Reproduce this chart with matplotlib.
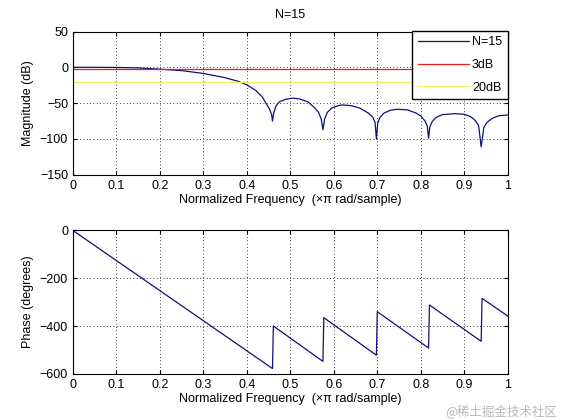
import numpy as np
import matplotlib.pyplot as plt

plt.rcParams['font.family'] = ['Liberation Sans', 'DejaVu Sans']
plt.rcParams['font.size'] = 9

# magnitude response (freq in x pi rad/sample, dB)
mag_f = [0.0, 0.05, 0.10, 0.15, 0.20, 0.25, 0.30, 0.35, 0.38, 0.40, 0.42,
         0.435, 0.445, 0.452, 0.457, 0.459, 0.462, 0.467, 0.475, 0.49, 0.506,
         0.52, 0.54, 0.555, 0.565, 0.571, 0.575, 0.579, 0.585, 0.595, 0.61,
         0.62, 0.64, 0.66, 0.68, 0.69, 0.695, 0.698, 0.701, 0.706, 0.715,
         0.73, 0.747, 0.77, 0.79, 0.80, 0.81, 0.815, 0.818, 0.821, 0.826,
         0.835, 0.85, 0.878, 0.90, 0.915, 0.925, 0.933, 0.939, 0.945, 0.952,
         0.965, 0.98, 1.0]
mag_db = [0.0, 0.0, -0.2, -0.8, -2.6, -4.6, -8.5, -14.5, -19.5, -24.5, -32,
          -41, -51, -58, -66, -75, -63, -54, -48, -44.5, -43,
          -44, -48, -56, -63, -72, -87, -72, -63, -57, -53.5,
          -52.5, -53.5, -57, -64, -70, -77, -100, -78, -70, -64,
          -60, -58.5, -59.5, -64, -68, -75, -82, -99, -83, -76,
          -70, -66, -64.7, -65.5, -69, -74, -81, -111, -84, -77,
          -71, -67.5, -66.5]

# phase response (degrees)
ph_f = [0.0, 0.459, 0.461, 0.575, 0.577, 0.698, 0.700, 0.818, 0.820,
        0.939, 0.941, 1.0]
ph_deg = [0, -578, -400, -548, -365, -522, -340, -492, -312,
          -464, -284, -358]

ref_3db = -3
ref_20db = -20

xticks = np.arange(0, 1.01, 0.1)
xlabels = ['0', '0.1', '0.2', '0.3', '0.4', '0.5', '0.6', '0.7', '0.8', '0.9', '1']
line_col = '#10107a'

fig = plt.figure(figsize=(5.61, 4.20), dpi=100)
ax1 = fig.add_axes([0.13, 0.5838, 0.775, 0.3412])
ax2 = fig.add_axes([0.13, 0.11, 0.775, 0.3412])

ax1.plot(mag_f, mag_db, color=line_col, lw=0.9, label='N=15')
ax1.axhline(ref_3db, color='#e02020', lw=0.9, label='3dB')
ax1.axhline(ref_20db, color='#f2f060', lw=0.9, label='20dB')
ax1.set_ylim(-150, 50)
ax1.set_yticks([-150, -100, -50, 0, 50])
ax1.set_ylabel('Magnitude (dB)')
ax1.set_title('N=15', fontsize=9, pad=10)
ax1.legend(loc='upper right', bbox_to_anchor=(1.0, 1.005), borderaxespad=0,
           fancybox=False, edgecolor='black', framealpha=1, handlelength=4.1,
           handletextpad=0.25, fontsize=9, labelspacing=0.85, borderpad=0.45)

ax2.plot(ph_f, ph_deg, color=line_col, lw=0.9)
ax2.set_ylim(-600, 0)
ax2.set_yticks([-600, -400, -200, 0])
ax2.set_ylabel('Phase (degrees)')

for ax in (ax1, ax2):
    ax.set_xlim(0, 1)
    ax.set_xticks(xticks)
    ax.set_xticklabels(xlabels)
    ax.set_xlabel('Normalized Frequency  (\u00d7\u03c0 rad/sample)', labelpad=2)
    ax.grid(True, color='black', linestyle=(0, (1, 3)), lw=0.6)
    ax.tick_params(direction='in', top=True, right=True, length=3)
    for s in ax.spines.values():
        s.set_linewidth(0.8)

fig.text(0.993, 0.022, '@稀土掘金技术社区', ha='right', va='center', color='#b8b8b8',
         fontsize=9, family=['Noto Sans CJK SC', 'DejaVu Sans'])

fig.savefig('out.png', dpi=100)
